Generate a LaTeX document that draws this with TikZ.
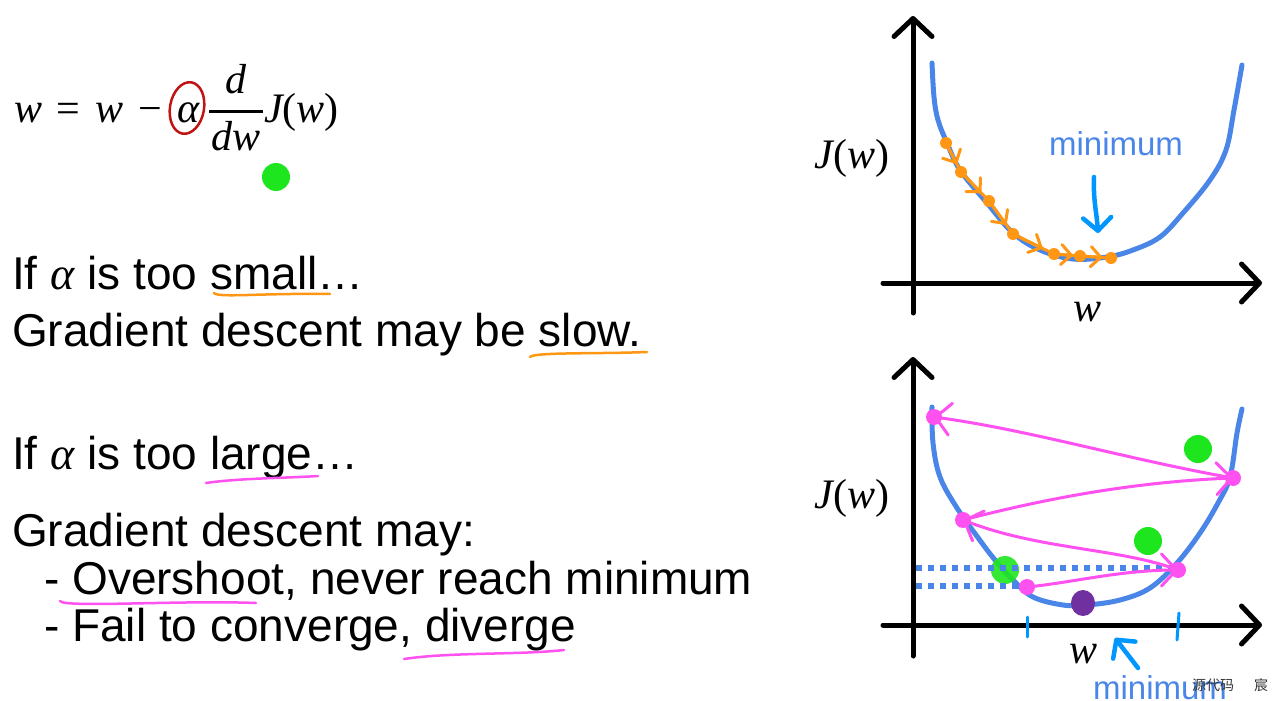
\documentclass[tikz,border=0pt]{standalone}
\usepackage{fontspec}
\setmainfont{Liberation Sans}
\newfontfamily\ser{Liberation Serif}
\newfontfamily\cjkfont{Noto Sans CJK SC}
\newcommand{\mi}[1]{{\ser\itshape #1}}
\newcommand{\mr}[1]{{\ser #1}}
\usetikzlibrary{arrows.meta,calc}
\definecolor{curveblue}{RGB}{74,134,232}
\definecolor{arrowblue}{RGB}{0,150,255}
\definecolor{ptorange}{RGB}{255,150,20}
\definecolor{ptmag}{RGB}{255,80,240}
\definecolor{ptgreen}{RGB}{30,230,30}
\definecolor{ptpurple}{RGB}{112,48,160}
\definecolor{circred}{RGB}{192,20,20}
\tikzset{
  txt/.style={anchor=base west, inner sep=0pt, font=\fontsize{46}{54}\selectfont},
  eqp/.style={anchor=base west, inner sep=0pt, font=\fontsize{42}{50}\selectfont},
  axislbl/.style={inner sep=0pt, font=\fontsize{42}{50}\selectfont},
  axisline/.style={black, line width=5pt, line cap=round, -{Straight Barb[length=18pt,width=38pt,line cap=round,round]}},
  costcurve/.style={curveblue, line width=5pt, line cap=round},
  orng/.style={ptorange, line width=3pt, line cap=round},
  orngarr/.style={ptorange, line width=3pt, line cap=round, -{Straight Barb[length=10pt,width=20pt,round]}},
  magarr/.style={ptmag, line width=3pt, line cap=round, -{Straight Barb[length=15pt,width=32pt,round]}},
  blarr/.style={arrowblue, line width=4.5pt, line cap=round, -{Straight Barb[length=13pt,width=28pt,round]}},
  uline/.style={line width=2.5pt, line cap=round},
  dotline/.style={curveblue, line width=6pt, dash pattern=on 6pt off 6pt},
  minlbl/.style={curveblue, inner sep=0pt, font=\fontsize{33}{40}\selectfont},
}
\begin{document}
\begin{tikzpicture}[x=1pt,y=-1pt]
\useasboundingbox (0,0) rectangle (1278,701);

% ---------- formula ----------
\node[eqp] (e1) at (14,122) {\mi{w}};
\node[eqp] (e2) at (56,122) {\mr{=}};
\node[eqp] (e3) at (95,122) {\mi{w}};
\node[eqp] (e4) at (138,122) {\mr{−}};
\node[eqp] (e5) at (177,122) {\mi{α}};
\coordinate (fb1) at (209,111);
\coordinate (fb2) at (263,111);
\draw[black, line width=3pt] (fb1) -- (fb2);
\node[eqp, anchor=base] (enum) at (236,93) {\mi{d}};
\node[eqp, anchor=base] (eden) at (236,150) {\mi{dw}};
\node[eqp] (e6) at (264,122) {\mi{J}\mr{(}\mi{w}\mr{)}};
\draw[circred, line width=2.5pt, rotate around={-10:(187,108)}] (187,108) ellipse [x radius=17pt, y radius=26pt];
\fill[ptgreen] (276,177) circle[radius=14pt];

% ---------- left texts ----------
\node[txt] (l1) at (12,289) {If \mi{α} is too small…};
\node[txt] (l2) at (12,346) {Gradient descent may be slow.};
\node[txt] (l3) at (12,469) {If \mi{α} is too large…};
\node[txt] (l4) at (12,546) {Gradient descent may:};
\node[txt] (l5) at (44,594) {- Overshoot, never reach minimum};
\node[txt] (l6) at (44,641) {- Fail to converge, diverge};

\draw[ptorange, uline] (214,293) .. controls (218,298) and (260,293) .. (330,294);
\draw[ptorange, uline] (530,357) .. controls (534,352) and (600,354) .. (647,352);
\draw[ptmag, uline] (206,483) .. controls (240,478) and (290,478) .. (318,476);
\draw[ptmag, uline] (60,601) .. controls (64,608) and (180,600) .. (256,603);
\draw[ptmag, uline] (404,659) .. controls (450,652) and (520,655) .. (564,650);

% ---------- top graph ----------
\draw[axisline] (913,313) -- (913,16);
\draw[axisline] (883,283) -- (1262,283);
\draw[costcurve] plot[smooth, tension=0.6] coordinates {(932,63) (934,97) (938,120) (947,143) (960,170) (987,203) (1013,233) (1040,250) (1073,259) (1107,257) (1133,250) (1160,237) (1183,213) (1210,180) (1226,150) (1234,110) (1242,65)};
\node[axislbl, anchor=base] (tJ) at (852,168) {\mi{J}\mr{(}\mi{w}\mr{)}};
\node[axislbl, anchor=base] (tw) at (1087,321) {\mi{w}};
\node[minlbl, anchor=base] (tmin) at (1116,155) {minimum};
\coordinate (tmA) at (1094,177);
\coordinate (tmB) at (1098,233);
\draw[blarr] (tmA) .. controls (1093,200) and (1097,215) .. (tmB);

\coordinate (O1) at (946,143);
\coordinate (O2) at (961,172);
\coordinate (O3) at (989,201);
\coordinate (O4) at (1013,234);
\coordinate (O5) at (1054,254);
\coordinate (O6) at (1080,256);
\coordinate (O7) at (1111,258);
\draw[orng] (O1) -- (O2) -- (O3) -- (O4) -- (O5) -- (O6) -- (O7);
\foreach \a/\b in {O1/O2,O2/O3,O3/O4,O4/O5,O5/O6,O6/O7}{
  \draw[orngarr] (\a) -- ($(\a)!0.72!(\b)$);
}
\foreach \p in {O1,O2,O3,O4,O5,O6,O7}{ \fill[ptorange] (\p) circle[radius=6pt]; }

% ---------- bottom graph ----------
\draw[axisline] (913,656) -- (913,357);
\draw[axisline] (883,625) -- (1262,625);
\draw[costcurve] plot[smooth, tension=0.6] coordinates {(932,407) (933,443) (940,477) (957,508) (979,539) (995,560) (1013,580) (1033,597) (1063,605) (1087,605) (1120,600) (1150,588) (1177,563) (1200,533) (1218,503) (1230,477) (1237,433) (1242,409)};
\node[axislbl, anchor=base] (bJ) at (852,508) {\mi{J}\mr{(}\mi{w}\mr{)}};
\node[axislbl, anchor=base] (bw) at (1083,663) {\mi{w}};

\draw[arrowblue, line width=3pt, line cap=round] (1027,617) -- (1027,637);
\draw[arrowblue, line width=3pt, line cap=round] (1179,613) -- (1177,640);

\fill[ptgreen] (1198,449) circle[radius=14pt];
\fill[ptgreen] (1148,541) circle[radius=14pt];
\fill[ptgreen, opacity=0.9] (1005,570) circle[radius=14pt];
\draw[dotline] (916,568) -- (1176,568);
\draw[dotline] (916,586) -- (1027,586);
\fill[ptpurple] (1083,603) ellipse [x radius=12pt, y radius=13pt];

\coordinate (P1) at (934,417);
\coordinate (P2) at (1233,478);
\coordinate (P3) at (963,520);
\coordinate (P4) at (1178,570);
\coordinate (P5) at (1027,587);
\draw[magarr] (P5) .. controls (1070,583) and (1120,570) .. (P4);
\draw[magarr] (P4) .. controls (1120,548) and (1040,550) .. (P3);
\draw[magarr] (P3) .. controls (1040,500) and (1130,482) .. (P2);
\draw[magarr] (P2) .. controls (1130,460) and (1030,430) .. (P1);
\foreach \p in {P1,P2,P3,P4,P5}{ \fill[ptmag] (\p) circle[radius=8pt]; }

\coordinate (bmA) at (1138,668);
\coordinate (bmB) at (1115,638);
\draw[blarr] (bmA) -- (bmB);
\node[minlbl, anchor=base] (bmin) at (1160,699) {minimum};

\node[inner sep=0pt, text=black!80, font=\cjkfont\fontsize{14}{16}\selectfont] (wm1) at (1213,685) {源代码};
\node[inner sep=0pt, text=black!80, font=\cjkfont\fontsize{14}{16}\selectfont] (wm2) at (1261,685) {宸};
\end{tikzpicture}
\end{document}
